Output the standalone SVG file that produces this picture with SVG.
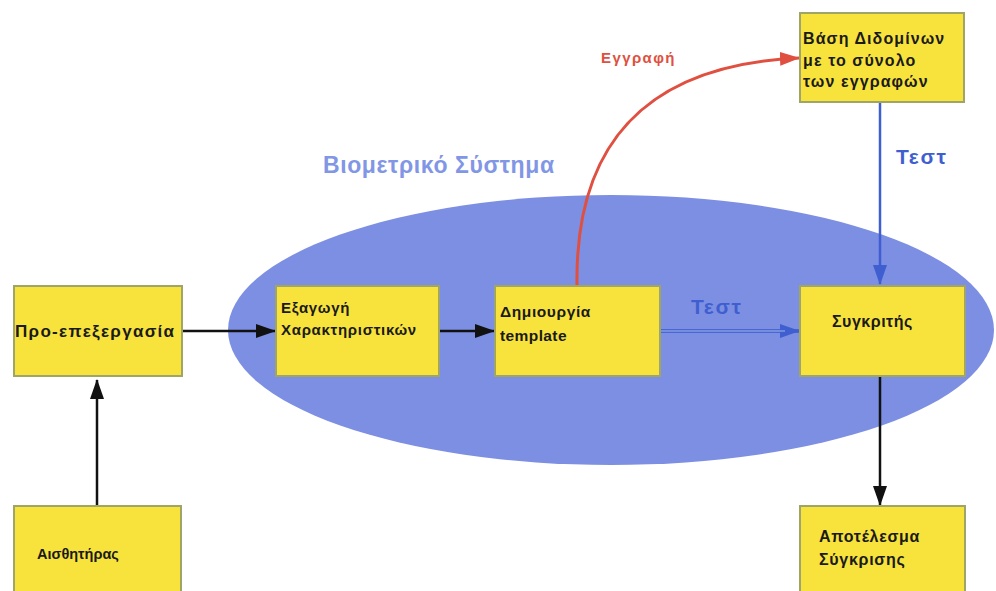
<svg xmlns="http://www.w3.org/2000/svg" width="996" height="591" viewBox="0 0 996 591">
<style>
.box{fill:#f8e33c;stroke:#9ea566;stroke-width:2}
.t{font-family:"Liberation Sans",Arial,sans-serif;font-weight:bold;font-size:15px;fill:#1a1a1a}
.blk{stroke:#111;stroke-width:2.5;fill:none}
.blu{stroke:#3f5fd0;stroke-width:2.5;fill:none}
</style>
<defs>
<marker id="au" markerWidth="20" markerHeight="14" refX="19" refY="7" orient="auto" markerUnits="userSpaceOnUse" viewBox="0 0 20 14"><path d="M0,0 L20,7 L0,14 z" fill="#3f5fd0"/></marker>
<marker id="ak" markerWidth="20" markerHeight="14" refX="19" refY="7" orient="auto" markerUnits="userSpaceOnUse" viewBox="0 0 20 14"><path d="M0,0 L20,7 L0,14 z" fill="#111"/></marker>
<marker id="ar" markerWidth="20" markerHeight="14" refX="19" refY="7" orient="auto" markerUnits="userSpaceOnUse" viewBox="0 0 20 14"><path d="M0,0 L20,7 L0,14 z" fill="#e05040"/></marker>
</defs>
<rect width="996" height="591" fill="#ffffff"/>
<g id="system">
<ellipse cx="611" cy="330" rx="383" ry="135" fill="#7d8fe2"/>
<text x="323" y="173" font-family="'Liberation Sans',Arial,sans-serif" font-weight="bold" font-size="23" letter-spacing="0.6" fill="#8296e6">Βιομετρικό Σύστημα</text>
</g>
<g id="connectors">
<line class="blk" x1="97" y1="506" x2="97" y2="380" marker-end="url(#ak)"/>
<line class="blk" x1="182" y1="331" x2="275" y2="331" marker-end="url(#ak)"/>
<line class="blk" x1="439" y1="331" x2="494" y2="331" marker-end="url(#ak)"/>
<line x1="660" y1="331" x2="799" y2="331" stroke="#4a66d4" stroke-width="4" marker-end="url(#au)"/>
<line x1="660" y1="331" x2="785" y2="331" stroke="#9fb8ea" stroke-width="1.2"/>
<text x="691" y="314" font-family="'Liberation Sans',Arial,sans-serif" font-weight="bold" font-size="21" letter-spacing="1.6" fill="#3f5fd0">Τεστ</text>
<line class="blu" x1="880" y1="102" x2="880" y2="284" marker-end="url(#au)"/>
<text x="896" y="164" font-family="'Liberation Sans',Arial,sans-serif" font-weight="bold" font-size="21" letter-spacing="1.6" fill="#3f5fd0">Τεστ</text>
<line class="blk" x1="880" y1="377" x2="880" y2="505" marker-end="url(#ak)"/>
<path d="M577,285 C575,150 640,65 799,58" stroke="#e05040" stroke-width="3" fill="none" marker-end="url(#ar)"/>
<text x="601" y="63" font-family="'Liberation Sans',Arial,sans-serif" font-weight="bold" font-size="15" letter-spacing="1.4" fill="#e05040">Εγγραφή</text>
</g>
<g id="proepexergasia">
<rect class="box" x="14" y="286" width="168" height="90"/>
<text class="t" x="15" y="337" style="font-size:17px;letter-spacing:1.3px">Προ-επεξεργασία</text>
</g>
<g id="exagogi">
<rect class="box" x="276" y="286" width="163" height="90"/>
<text class="t" x="281" y="313" style="letter-spacing:0.7px">Εξαγωγή</text>
<text class="t" x="281" y="335" style="letter-spacing:0.7px">Χαρακτηριστικών</text>
</g>
<g id="dimiourgia">
<rect class="box" x="495" y="286" width="165" height="90"/>
<text class="t" x="500" y="317" style="font-size:15.5px;letter-spacing:0.6px">Δημιουργία</text>
<text class="t" x="500" y="341" style="font-size:15.5px;letter-spacing:0.4px">template</text>
</g>
<g id="sygkritis">
<rect class="box" x="800" y="286" width="165" height="90"/>
<text class="t" x="832" y="327" style="font-size:16px;letter-spacing:0.5px">Συγκριτής</text>
</g>
<g id="vasi">
<rect class="box" x="800" y="13" width="164" height="89"/>
<text class="t" x="803" y="44" style="font-size:16px;letter-spacing:1.1px">Βάση Διδομίνων</text>
<text class="t" x="803" y="66" style="font-size:16px;letter-spacing:1.1px">με το σύνολο</text>
<text class="t" x="803" y="87" style="font-size:16px;letter-spacing:1.1px">των εγγραφών</text>
</g>
<g id="aisthitiras">
<rect class="box" x="14" y="506" width="167" height="95"/>
<text class="t" x="37" y="559" style="font-size:14.5px">Αισθητήρας</text>
</g>
<g id="apotelesma">
<rect class="box" x="800" y="506" width="165" height="95"/>
<text class="t" x="819" y="542" style="font-size:16px;letter-spacing:0.7px">Αποτέλεσμα</text>
<text class="t" x="819" y="565" style="font-size:16px;letter-spacing:0.7px">Σύγκρισης</text>
</g>
</svg>
